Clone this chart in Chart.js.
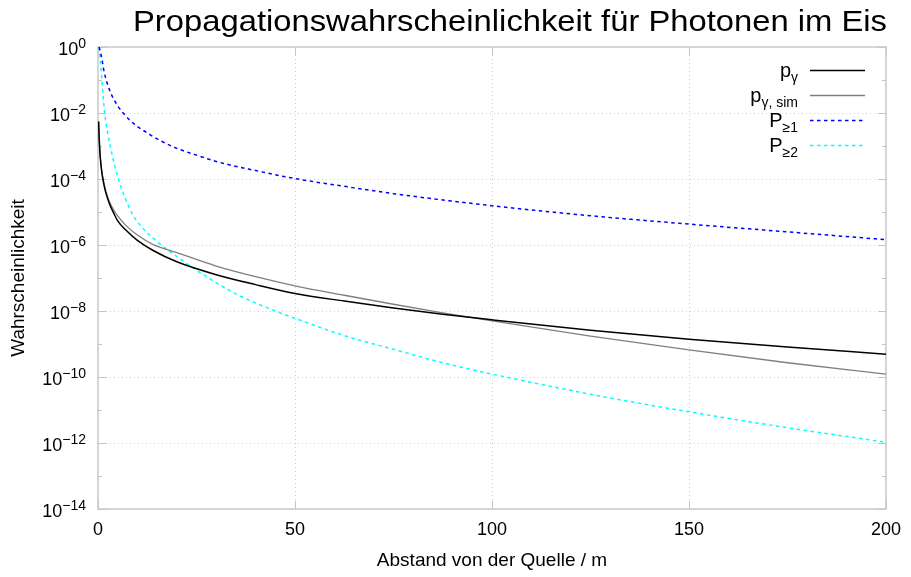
<!DOCTYPE html>
<html>
<head>
<meta charset="utf-8">
<title>Propagationswahrscheinlichkeit</title>
<script src="https://cdn.jsdelivr.net/npm/chart.js@4.4.1/dist/chart.umd.min.js"></script>
<style>
  html, body { margin: 0; padding: 0; background: #fff; }
  canvas { display: block; }
</style>
</head>
<body>
<canvas id="probChart" width="911" height="577"></canvas>
<script>
const titleText = "Propagationswahrscheinlichkeit für Photonen im Eis";
const xAxisLabel = "Abstand von der Quelle / m";
const yAxisLabel = "Wahrscheinlichkeit";

const xTicks = [0, 50, 100, 150, 200];
// exponents of the decade ticks, labels only on the even ones
const yDecades = [0, -1, -2, -3, -4, -5, -6, -7, -8, -9, -10, -11, -12, -13, -14];
const yLabelDecades = [0, -2, -4, -6, -8, -10, -12, -14];

// p_gamma
const distGamma = [0.15, 0.3, 0.5, 0.75, 1, 1.5, 2, 3, 4, 5, 7, 10, 14, 20, 30, 40, 50, 62.5, 75, 87.5, 100, 125, 150, 175, 200];
const pGamma = [5.5e-3, 1.7e-3, 6.0e-4, 2.7e-4, 1.5e-4, 6.8e-5, 3.8e-5, 1.66e-5, 9.2e-6, 5.4e-6, 2.9e-6, 1.38e-6, 6.8e-7, 3.1e-7, 1.26e-7, 6.3e-8, 3.4e-8, 2.0e-8, 1.24e-8, 8.0e-9, 5.4e-9, 2.6e-9, 1.4e-9, 8.1e-10, 4.9e-10];

// p_gamma, sim
const distSim = [0.15, 0.3, 0.5, 0.75, 1, 1.5, 2, 3, 4, 5, 7, 10, 14, 20, 30, 40, 50, 62.5, 75, 87.5, 100, 125, 150, 175, 200];
const pGammaSim = [5.5e-3, 1.7e-3, 6.2e-4, 2.9e-4, 1.6e-4, 7.5e-5, 4.2e-5, 1.95e-5, 1.15e-5, 7.6e-6, 4.0e-6, 2.0e-6, 1.03e-6, 5.9e-7, 2.3e-7, 1.1e-7, 5.8e-8, 3.0e-8, 1.6e-8, 8.8e-9, 5.0e-9, 1.74e-9, 6.6e-10, 2.7e-10, 1.23e-10];

// P >= 1
const distP1 = [0.3, 1, 1.5, 2.2, 3, 4, 5, 6.4, 8, 10, 12.5, 15, 20, 25, 30, 40, 50, 62.5, 75, 100, 125, 150, 175, 200];
const pAtLeast1 = [1.0, 0.43, 0.19, 0.09, 0.047, 2.6e-2, 1.64e-2, 1.0e-2, 6.2e-3, 3.9e-3, 2.5e-3, 1.64e-3, 8.5e-4, 5.3e-4, 3.4e-4, 1.8e-4, 1.03e-4, 6.0e-5, 3.6e-5, 1.55e-5, 7.7e-6, 4.3e-6, 2.5e-6, 1.45e-6];

// P >= 2
const distP2 = [0.3, 1, 1.7, 3.1, 5.2, 8.6, 11.1, 16.5, 20, 24.9, 35, 46, 50, 62.5, 75, 87.5, 100, 127, 150, 175, 200];
const pAtLeast2 = [1.0, 0.1, 1.0e-2, 1.0e-3, 1.0e-4, 9.3e-6, 3.5e-6, 9.1e-7, 4.5e-7, 1.75e-7, 3.3e-8, 9.0e-9, 6.0e-9, 1.8e-9, 6.9e-10, 2.7e-10, 1.23e-10, 2.7e-11, 8.8e-12, 2.9e-12, 1.05e-12];

const legendMain = ["p", "p", "P", "P"];
const legendSub = ["γ", "γ, sim", "≥1", "≥2"];

const FONT = '"Liberation Sans", Arial, Helvetica, sans-serif';
Chart.defaults.font.family = FONT;
Chart.defaults.color = "#000";

function points(xs, ys) {
  return xs.map((v, i) => ({ x: v, y: ys[i] }));
}

const frame = {
  id: "frame",
  beforeDatasetsDraw(chart) {
    const { ctx, chartArea: a, scales: { x, y } } = chart;
    ctx.save();
    // dotted grid
    ctx.strokeStyle = "#cfcfcf";
    ctx.lineWidth = 1;
    ctx.setLineDash([1, 3]);
    ctx.beginPath();
    xTicks.forEach((v) => {
      if (v <= x.min || v >= x.max) return;
      const px = Math.round(x.getPixelForValue(v)) + 0.5;
      ctx.moveTo(px, a.top);
      ctx.lineTo(px, a.bottom);
    });
    yLabelDecades.forEach((e) => {
      if (e === 0 || e === -14) return;
      const py = Math.round(y.getPixelForValue(10 ** e)) + 0.5;
      ctx.moveTo(a.left, py);
      ctx.lineTo(a.right, py);
    });
    ctx.stroke();

    // small ticks pointing inward
    ctx.setLineDash([]);
    ctx.strokeStyle = "#c4c4c4";
    ctx.beginPath();
    yDecades.forEach((e) => {
      const py = Math.round(y.getPixelForValue(10 ** e)) + 0.5;
      const len = e % 2 === 0 ? 8 : 4;
      ctx.moveTo(a.left, py);
      ctx.lineTo(a.left + len, py);
      ctx.moveTo(a.right, py);
      ctx.lineTo(a.right - len, py);
    });
    xTicks.forEach((v) => {
      const px = Math.round(x.getPixelForValue(v)) + 0.5;
      ctx.moveTo(px, a.bottom);
      ctx.lineTo(px, a.bottom - 8);
      ctx.moveTo(px, a.top);
      ctx.lineTo(px, a.top + 8);
    });
    ctx.stroke();

    ctx.lineWidth = 1.5;
    ctx.strokeStyle = "#c8c8c8";
    ctx.strokeRect(a.left, a.top, a.right - a.left, a.bottom - a.top);
    ctx.restore();
  },
  afterDraw(chart) {
    const { ctx, chartArea: a, scales: { y } } = chart;
    ctx.save();
    ctx.fillStyle = "#000";
    ctx.textBaseline = "alphabetic";

    // y labels 10^n
    yLabelDecades.forEach((e) => {
      const py = y.getPixelForValue(10 ** e);
      const exp = e === 0 ? "0" : "\u2212" + -e;
      ctx.font = "14px " + FONT;
      const ew = ctx.measureText(exp).width;
      const ex = a.left - 12 - ew;
      ctx.textAlign = "left";
      ctx.fillText(exp, ex, py + 0.5);
      ctx.font = "18px " + FONT;
      ctx.textAlign = "right";
      ctx.fillText("10", ex, py + 7.5);
    });

    // title, drawn a bit wider like the original
    ctx.font = "29px " + FONT;
    const tw = ctx.measureText(titleText).width;
    ctx.translate(510, 31);
    ctx.scale(754 / tw, 1);
    ctx.textAlign = "center";
    ctx.fillText(titleText, 0, 0);
    ctx.setTransform(1, 0, 0, 1, 0, 0);

    // legend (top right, text with subscripts)
    chart.data.datasets.forEach((ds, i) => {
      const ly = 70 + 25 * i;
      ctx.font = "20px " + FONT;
      const w1 = ctx.measureText(legendMain[i]).width;
      ctx.font = "14px " + FONT;
      const w2 = ctx.measureText(legendSub[i]).width;
      const x0 = 798 - w1 - w2;
      ctx.textAlign = "left";
      ctx.font = "20px " + FONT;
      ctx.fillText(legendMain[i], x0, ly + 6.5);
      ctx.font = "14px " + FONT;
      ctx.fillText(legendSub[i], x0 + w1, ly + 11.5);

      ctx.strokeStyle = ds.borderColor;
      ctx.lineWidth = ds.borderWidth;
      ctx.setLineDash(ds.borderDash || []);
      ctx.beginPath();
      ctx.moveTo(810, ly + 0.5);
      ctx.lineTo(865, ly + 0.5);
      ctx.stroke();
    });
    ctx.restore();
  },
};

const chart = new Chart(document.getElementById("probChart"), {
  type: "line",
  data: {
    datasets: [
      {
        label: "p_γ",
        data: points(distGamma, pGamma),
        borderColor: "#000000",
        borderWidth: 1.5,
      },
      {
        label: "p_γ, sim",
        data: points(distSim, pGammaSim),
        borderColor: "#7f7f7f",
        borderWidth: 1.3,
      },
      {
        label: "P_≥1",
        data: points(distP1, pAtLeast1),
        borderColor: "#0000ff",
        borderWidth: 1.5,
        borderDash: [3.5, 3.5],
      },
      {
        label: "P_≥2",
        data: points(distP2, pAtLeast2),
        borderColor: "#00ffff",
        borderWidth: 1.5,
        borderDash: [3.5, 3.5],
      },
    ],
  },
  options: {
    responsive: false,
    animation: false,
    elements: {
      point: { radius: 0, hoverRadius: 0 },
      line: { cubicInterpolationMode: "monotone", fill: false },
    },
    layout: { padding: { top: 47, right: 23, left: 0, bottom: 0 } },
    plugins: {
      legend: { display: false },
      title: { display: false },
      tooltip: { enabled: false },
    },
    scales: {
      x: {
        type: "linear",
        min: 0,
        max: 200,
        afterBuildTicks: (scale) => {
          scale.ticks = xTicks.map((v) => ({ value: v }));
        },
        afterFit: (scale) => {
          scale.height = 68;
        },
        ticks: { font: { size: 18 }, color: "#000", padding: 10, maxRotation: 0 },
        grid: { display: false, drawTicks: false },
        border: { display: false },
        title: {
          display: true,
          text: xAxisLabel,
          font: { size: 19 },
          color: "#000",
          padding: { top: 0, bottom: 5 },
        },
      },
      y: {
        type: "logarithmic",
        min: 1e-14,
        max: 1,
        afterFit: (scale) => {
          scale.width = 98;
        },
        ticks: { display: false },
        grid: { display: false, drawTicks: false },
        border: { display: false },
        title: {
          display: true,
          text: yAxisLabel,
          font: { size: 19 },
          color: "#000",
          padding: { top: 7, bottom: 0 },
        },
      },
    },
  },
  plugins: [frame],
});
</script>
</body>
</html>
